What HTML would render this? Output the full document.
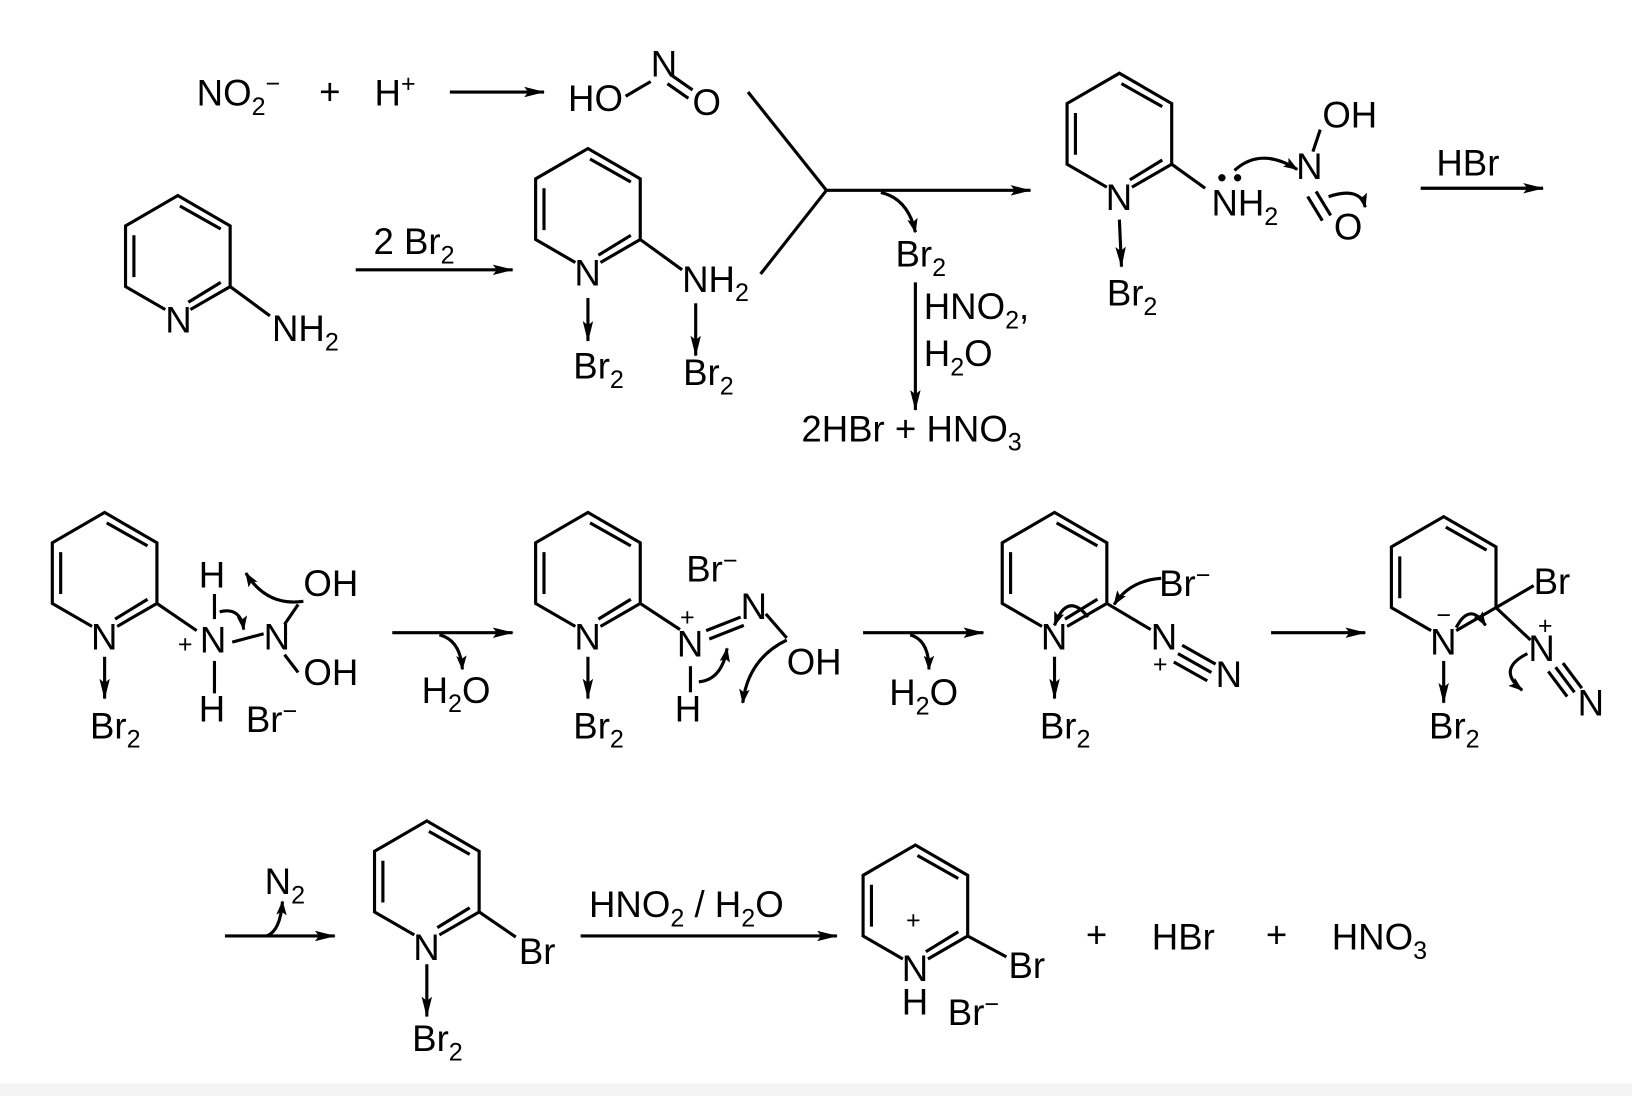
<!DOCTYPE html>
<html><head><meta charset="utf-8"><style>
html,body{margin:0;padding:0;background:#fff;width:1632px;height:1096px;overflow:hidden}
svg{display:block}
text{font-family:"Liberation Sans",Arial,sans-serif;font-size:35px;fill:#000}
.s{font-size:24px}
</style></head><body>
<svg width="1632" height="1096" viewBox="0 0 1560 1048" preserveAspectRatio="none" xmlns="http://www.w3.org/2000/svg">
<defs>
<marker id="ah" viewBox="0 0 20 10" refX="19" refY="5" markerWidth="20" markerHeight="10" markerUnits="userSpaceOnUse" orient="auto"><path d="M0,0 L20,5 L0,10 L4,5 Z" fill="#000"/></marker>
<marker id="ah2" viewBox="0 0 14 10" refX="13" refY="5" markerWidth="14" markerHeight="10" markerUnits="userSpaceOnUse" orient="auto"><path d="M0,0 L14,5 L0,10 L3,5 Z" fill="#000"/></marker>
<g id="ring" fill="none" stroke="#000" stroke-width="3">
<path d="M-12,51 L-50,29 L-50,-29 L0,-58 L50,-29 L50,29 L12,51"/>
<path d="M2,-48 L41,-26 M-42,-20 L-42,20 M41,25 L10,44"/>
</g>
<g id="ring2" fill="none" stroke="#000" stroke-width="3">
<path d="M-12,51 L-50,29 L-50,-29 L0,-58 L50,-29 L50,29 L12,51"/>
<path d="M2,-48 L41,-26 M-42,-20 L-42,20"/>
</g>
</defs>
<rect x="0" y="1036" width="1560" height="12" fill="#f4f4f4"/>
<g fill="none" stroke="#000" stroke-width="3">
<line x1="430" y1="88" x2="520" y2="88" marker-end="url(#ah)"/>
<line x1="598" y1="92" x2="622" y2="78"/>
<line x1="642" y1="72" x2="662" y2="86"/><line x1="638" y1="80" x2="658" y2="94"/>
<line x1="715" y1="88" x2="790" y2="182"/>
<line x1="790" y1="182" x2="727" y2="262"/>
<line x1="790" y1="182" x2="985" y2="182" marker-end="url(#ah)"/>
<path d="M842,184 Q868,190 875,222" marker-end="url(#ah2)"/>
<line x1="875" y1="270" x2="875" y2="392" marker-end="url(#ah)"/>
<line x1="340" y1="258" x2="490" y2="258" marker-end="url(#ah)"/>
<line x1="220" y1="274" x2="258" y2="302"/>
<line x1="612" y1="229" x2="652" y2="258"/>
<line x1="562" y1="285" x2="562" y2="326" marker-end="url(#ah)"/>
<line x1="665" y1="290" x2="665" y2="340" marker-end="url(#ah)"/>
<line x1="1120" y1="157" x2="1152" y2="180"/>
<line x1="1070" y1="210" x2="1072" y2="255" marker-end="url(#ah)"/>
<path d="M1180,163 Q1205,140 1240,162" marker-end="url(#ah2)"/>
<line x1="1255" y1="145" x2="1262" y2="124"/>
<line x1="1258" y1="183" x2="1272" y2="206"/><line x1="1250" y1="188" x2="1264" y2="211"/>
<path d="M1270,188 Q1300,178 1305,198" marker-end="url(#ah2)"/>
<line x1="1358" y1="180" x2="1475" y2="180" marker-end="url(#ah)"/>
<line x1="100" y1="628" x2="100" y2="668" marker-end="url(#ah)"/>
<line x1="150" y1="577" x2="188" y2="603"/>
<line x1="205" y1="568" x2="205" y2="592"/>
<line x1="205" y1="632" x2="205" y2="663"/>
<line x1="222" y1="614" x2="252" y2="606"/>
<line x1="272" y1="597" x2="285" y2="578"/>
<line x1="272" y1="626" x2="285" y2="643"/>
<path d="M210,585 Q230,580 233,602" marker-end="url(#ah2)"/>
<path d="M290,575 Q255,580 235,548" marker-end="url(#ah2)"/>
<line x1="375" y1="605" x2="490" y2="605" marker-end="url(#ah)"/>
<path d="M420,607 Q440,612 442,640" marker-end="url(#ah2)"/>
<line x1="562" y1="628" x2="562" y2="668" marker-end="url(#ah)"/>
<line x1="612" y1="577" x2="650" y2="602"/>
<line x1="675" y1="603" x2="708" y2="590"/><line x1="678" y1="611" x2="711" y2="598"/>
<line x1="732" y1="587" x2="752" y2="610"/>
<line x1="660" y1="637" x2="660" y2="662"/>
<path d="M668,652 Q690,650 695,620" marker-end="url(#ah2)"/>
<path d="M752,612 Q715,630 710,672" marker-end="url(#ah2)"/>
<line x1="825" y1="605" x2="940" y2="605" marker-end="url(#ah)"/>
<path d="M870,607 Q888,612 888,640" marker-end="url(#ah2)"/>
<line x1="1008" y1="628" x2="1008" y2="668" marker-end="url(#ah)"/>
<line x1="1058" y1="577" x2="1100" y2="602"/>
<line x1="1130" y1="617" x2="1162" y2="635"/><line x1="1126" y1="625" x2="1158" y2="643"/><line x1="1122" y1="633" x2="1154" y2="651"/>
<path d="M1110,553 Q1080,555 1065,578" marker-end="url(#ah2)"/>
<path d="M1040,590 Q1020,565 1008,598" marker-end="url(#ah2)"/>
<line x1="1215" y1="605" x2="1305" y2="605" marker-end="url(#ah)"/>
<line x1="1380" y1="632" x2="1380" y2="672" marker-end="url(#ah)"/>
<line x1="1430" y1="581" x2="1466" y2="560"/>
<line x1="1430" y1="581" x2="1463" y2="612"/>
<line x1="1480" y1="642" x2="1498" y2="666"/><line x1="1487" y1="638" x2="1505" y2="662"/><line x1="1494" y1="634" x2="1512" y2="658"/>
<path d="M1392,600 Q1405,575 1420,598" marker-end="url(#ah2)"/>
<path d="M1460,625 Q1430,640 1455,660" marker-end="url(#ah2)"/>
<line x1="215" y1="895" x2="320" y2="895" marker-end="url(#ah)"/>
<path d="M255,895 Q268,890 270,862" marker-end="url(#ah2)"/>
<line x1="458" y1="872" x2="493" y2="896"/>
<line x1="408" y1="922" x2="408" y2="972" marker-end="url(#ah)"/>
<line x1="555" y1="895" x2="800" y2="895" marker-end="url(#ah)"/>
<line x1="925" y1="895" x2="962" y2="915"/>
</g>
<use href="#ring" x="170" y="245"/>
<use href="#ring" x="562" y="200"/>
<use href="#ring" x="1070" y="128"/>
<use href="#ring" x="100" y="548"/>
<use href="#ring" x="562" y="548"/>
<use href="#ring" x="1008" y="548"/>
<use href="#ring2" x="1380" y="552"/>
<use href="#ring" x="408" y="843"/>
<use href="#ring" x="875" y="866"/>
<circle cx="1168" cy="170" r="3.5"/><circle cx="1183" cy="170" r="3.5"/>
<text x="188" y="101">NO<tspan class="s" dy="9">2</tspan><tspan class="s" dy="-22">−</tspan></text>
<text x="305" y="100">+</text>
<text x="358" y="101">H<tspan class="s" dy="-13">+</tspan></text>
<text x="543" y="106">HO</text>
<text x="622" y="73">N</text>
<text x="662" y="110">O</text>
<text x="357" y="243">2 Br<tspan class="s" dy="9">2</tspan></text>
<text x="158" y="318">N</text>
<text x="260" y="326">NH<tspan class="s" dy="9">2</tspan></text>
<text x="549" y="273">N</text>
<text x="652" y="279">NH<tspan class="s" dy="9">2</tspan></text>
<text x="548" y="362">Br<tspan class="s" dy="9">2</tspan></text>
<text x="653" y="368">Br<tspan class="s" dy="9">2</tspan></text>
<text x="856" y="255">Br<tspan class="s" dy="9">2</tspan></text>
<text x="883" y="305">HNO<tspan class="s" dy="9">2</tspan><tspan dy="-9">,</tspan></text>
<text x="883" y="350">H<tspan class="s" dy="9">2</tspan><tspan dy="-9">O</tspan></text>
<text x="766" y="422">2HBr + HNO<tspan class="s" dy="9">3</tspan></text>
<text x="1057" y="201">N</text>
<text x="1158" y="206">NH<tspan class="s" dy="9">2</tspan></text>
<text x="1239" y="171">N</text>
<text x="1264" y="122">OH</text>
<text x="1275" y="229">O</text>
<text x="1058" y="292">Br<tspan class="s" dy="9">2</tspan></text>
<text x="1373" y="168">HBr</text>
<text x="87" y="621">N</text>
<text x="86" y="706">Br<tspan class="s" dy="9">2</tspan></text>
<text x="190" y="562">H</text>
<text x="170" y="624" class="s">+</text>
<text x="191" y="624">N</text>
<text x="190" y="690">H</text>
<text x="252" y="621">N</text>
<text x="290" y="570">OH</text>
<text x="290" y="655">OH</text>
<text x="235" y="700">Br<tspan class="s" dy="-12">−</tspan></text>
<text x="403" y="672">H<tspan class="s" dy="9">2</tspan><tspan dy="-9">O</tspan></text>
<text x="549" y="621">N</text>
<text x="548" y="706">Br<tspan class="s" dy="9">2</tspan></text>
<text x="656" y="556">Br<tspan class="s" dy="-12">−</tspan></text>
<text x="650" y="598" class="s">+</text>
<text x="647" y="628">N</text>
<text x="708" y="592">N</text>
<text x="752" y="645">OH</text>
<text x="645" y="690">H</text>
<text x="850" y="674">H<tspan class="s" dy="9">2</tspan><tspan dy="-9">O</tspan></text>
<text x="995" y="621">N</text>
<text x="994" y="706">Br<tspan class="s" dy="9">2</tspan></text>
<text x="1108" y="570">Br<tspan class="s" dy="-12">−</tspan></text>
<text x="1100" y="621">N</text>
<text x="1102" y="643" class="s">+</text>
<text x="1162" y="657">N</text>
<text x="1367" y="626">N</text>
<text x="1373" y="596" class="s">−</text>
<text x="1366" y="706">Br<tspan class="s" dy="9">2</tspan></text>
<text x="1466" y="568">Br</text>
<text x="1470" y="606" class="s">+</text>
<text x="1461" y="632">N</text>
<text x="1508" y="684">N</text>
<text x="253" y="855">N<tspan class="s" dy="9">2</tspan></text>
<text x="395" y="918">N</text>
<text x="496" y="922">Br</text>
<text x="394" y="1005">Br<tspan class="s" dy="9">2</tspan></text>
<text x="563" y="877">HNO<tspan class="s" dy="9">2</tspan><tspan dy="-9"> / H</tspan><tspan class="s" dy="9">2</tspan><tspan dy="-9">O</tspan></text>
<text x="866" y="888" class="s">+</text>
<text x="862" y="938">N</text>
<text x="862" y="970">H</text>
<text x="964" y="935">Br</text>
<text x="906" y="980">Br<tspan class="s" dy="-12">−</tspan></text>
<text x="1038" y="906">+</text>
<text x="1101" y="908">HBr</text>
<text x="1210" y="906">+</text>
<text x="1273" y="908">HNO<tspan class="s" dy="9">3</tspan></text>
</svg>
</body></html>
